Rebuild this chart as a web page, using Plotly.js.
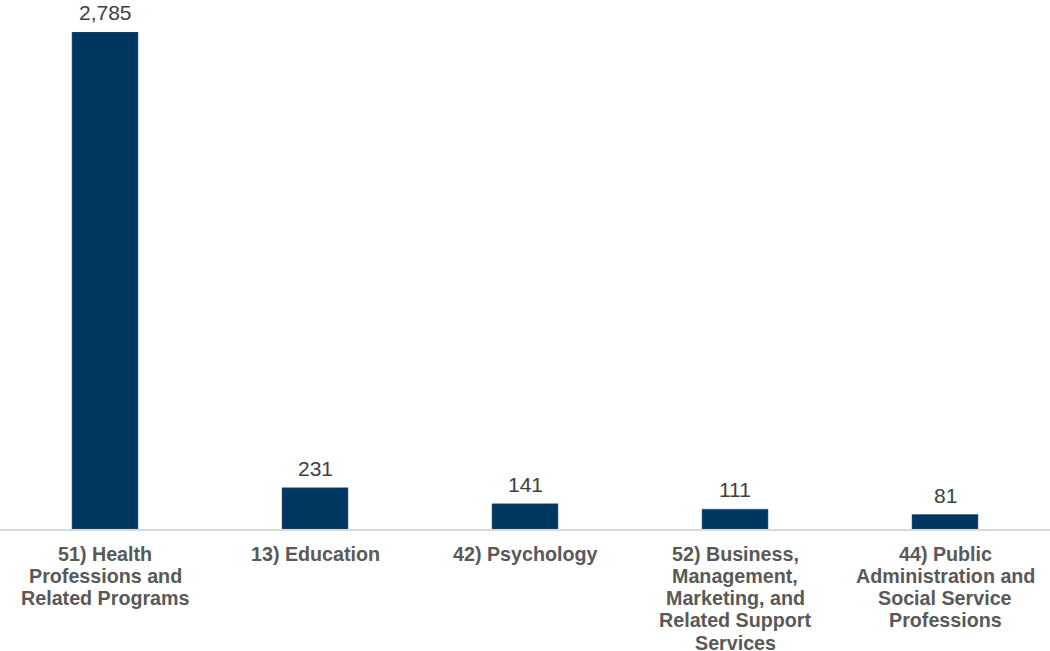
<!DOCTYPE html>
<html>
<head>
<meta charset="utf-8">
<script src="https://cdn.plot.ly/plotly-3.0.1.min.js"></script>
<style>html,body{margin:0;padding:0;background:#fff;}#chart{width:1050px;height:651px;}</style>
</head>
<body>
<div id="chart"></div>
<script>
const categories = [
  "51) Health<br>Professions and<br>Related Programs",
  "13) Education",
  "42) Psychology",
  "52) Business,<br>Management,<br>Marketing, and<br>Related Support<br>Services",
  "44) Public<br>Administration and<br>Social Service<br>Professions"
];
const values = [2785, 231, 141, 111, 81];
const valueLabels = ["2,785", "231", "141", "111", "81"];

const FONT = 'Liberation Sans, Arial, sans-serif';

const trace = {
  type: 'bar',
  x: categories,
  y: values,
  marker: {color: '#003760', line: {color: '#2a5a80', width: 0.5}},
  width: 0.314,
  hoverinfo: 'skip'
};

const annotations = [];
// value labels above bars
categories.forEach((c, i) => {
  annotations.push({
    x: c, xref: 'x', y: values[i], yref: 'y',
    yanchor: 'bottom', xanchor: 'center', yshift: 6,
    text: valueLabels[i], showarrow: false,
    font: {family: FONT, size: 21, color: '#404040'}
  });
});
// category labels, one annotation per line for tight line spacing
categories.forEach((c) => {
  c.split('<br>').forEach((line, j) => {
    annotations.push({
      x: c, xref: 'x', y: 0, yref: 'paper',
      yanchor: 'middle', xanchor: 'center',
      yshift: -24.5 - j * 22.3,
      text: '<b>' + line + '</b>', showarrow: false,
      font: {family: FONT, size: 19.7, color: '#595959'}
    });
  });
});

const layout = {
  width: 1050, height: 651,
  margin: {l: 0, r: 0, t: 32, b: 122},
  paper_bgcolor: '#fff', plot_bgcolor: '#fff',
  showlegend: false,
  xaxis: {
    type: 'category',
    showline: true, linecolor: '#d9d9d9', linewidth: 1.5,
    ticks: '', showgrid: false, automargin: false, showticklabels: false,
    fixedrange: true
  },
  yaxis: {
    range: [0, 2785], visible: false, showgrid: false, zeroline: false, fixedrange: true
  },
  annotations: annotations
};

Plotly.newPlot('chart', [trace], layout, {displayModeBar: false, staticPlot: true});
</script>
</body>
</html>
